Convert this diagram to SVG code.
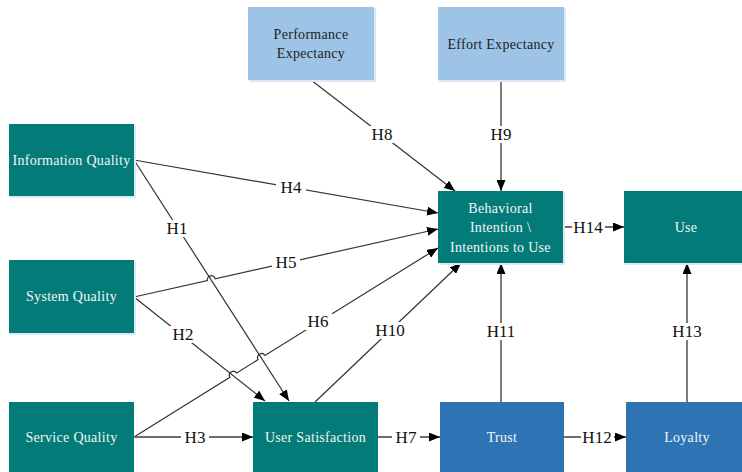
<svg xmlns="http://www.w3.org/2000/svg" width="742" height="472" viewBox="0 0 742 472">
<style>
.teal{fill:#037C79}
.blue{fill:#2E74B5}
.lblue{fill:#9DC3E6}
.sh{fill:#DCE8F3}
.nt{font-size:14px;text-anchor:middle;dominant-baseline:central;letter-spacing:0.3px}
.w{fill:#F4F4F4}
.d{fill:#1E1E1E}
.c{fill:none;stroke:#333;stroke-width:1.2}
.s{fill:none;stroke:#6E6E6E;stroke-width:1.8}
.lb{fill:#fff}
.lt{font-size:17px;fill:#111;text-anchor:middle;dominant-baseline:central}
</style>
<defs>
<marker id="ar" markerUnits="userSpaceOnUse" markerWidth="11" markerHeight="9" refX="11" refY="4.5" orient="auto">
<path d="M0,0 L11,4.5 L0,9 z" fill="#000"/>
</marker>
</defs>
<rect width="742" height="472" fill="#fff"/>
<g id="connectors">
<path id="e-h4" class="c" d="M134,160 L438,213" marker-end="url(#ar)"/>
<path id="e-h1" class="c" d="M134,160 L289,401" marker-end="url(#ar)"/>
<path id="e-h5" class="c" d="M134,297 L207.4,280.6 A4,4 0 0 1 215.2,278.8 L438,229" marker-end="url(#ar)"/>
<path id="e-h2" class="c" d="M134,297 L265,401" marker-end="url(#ar)"/>
<path id="e-h6" class="c" d="M134,437 L229.9,377.2 A4,4 0 0 1 236.7,373 L258.1,359.6 A4,4 0 0 1 264.9,355.4 L438,248" marker-end="url(#ar)"/>
<path id="e-h3" class="s" d="M134,437 L253,437" marker-end="url(#ar)"/>
<path id="e-h10" class="c" d="M315,402 L461,263" marker-end="url(#ar)"/>
<path id="e-h8" class="c" d="M311,80 L455,191" marker-end="url(#ar)"/>
<path id="e-h9" class="s" d="M501,80 L501,191" marker-end="url(#ar)"/>
<path id="e-h11" class="s" d="M501,402 L501,263" marker-end="url(#ar)"/>
<path id="e-h13" class="s" d="M687,402 L687,263" marker-end="url(#ar)"/>
<path id="e-h14" class="s" d="M563,227 L624,227" marker-end="url(#ar)"/>
<path id="e-h7" class="s" d="M378,437 L440,437" marker-end="url(#ar)"/>
<path id="e-h12" class="s" d="M564,437 L626,437" marker-end="url(#ar)"/>
<g id="labels" font-family="Liberation Serif, DejaVu Serif, serif">
<rect class="lb" x="276" y="179" width="30" height="17"/><text class="lt" x="291" y="187.5">H4</text>
<rect class="lb" x="163" y="220" width="28" height="17"/><text class="lt" x="177" y="228.5">H1</text>
<rect class="lb" x="272" y="254" width="28" height="17"/><text class="lt" x="286" y="262.5">H5</text>
<rect class="lb" x="169" y="326" width="28" height="17"/><text class="lt" x="183" y="334.5">H2</text>
<rect class="lb" x="304" y="313" width="28" height="17"/><text class="lt" x="318" y="321.5">H6</text>
<rect class="lb" x="181" y="429" width="28" height="17"/><text class="lt" x="195" y="437.5">H3</text>
<rect class="lb" x="374" y="322" width="33" height="17"/><text class="lt" x="390" y="330.5">H10</text>
<rect class="lb" x="368" y="126" width="28" height="17"/><text class="lt" x="382" y="134.5">H8</text>
<rect class="lb" x="487" y="126" width="28" height="17"/><text class="lt" x="501" y="134.5">H9</text>
<rect class="lb" x="485" y="323" width="33" height="17"/><text class="lt" x="501" y="331.5">H11</text>
<rect class="lb" x="671" y="323" width="33" height="17"/><text class="lt" x="687" y="331.5">H13</text>
<rect class="lb" x="572" y="219" width="33" height="17"/><text class="lt" x="588" y="227.5">H14</text>
<rect class="lb" x="392" y="429" width="28" height="17"/><text class="lt" x="406" y="437.5">H7</text>
<rect class="lb" x="581" y="429" width="33" height="17"/><text class="lt" x="597" y="437.5">H12</text>
</g>
</g>
<g id="nodes" font-family="Liberation Serif, DejaVu Serif, serif">
<g id="n-iq"><rect class="sh" x="10" y="125" width="126" height="73"/><rect class="teal" x="9" y="124" width="125" height="72"/><text class="nt w" x="71.5" y="160">Information Quality</text></g>
<g id="n-sq"><rect class="sh" x="10" y="261" width="126" height="74"/><rect class="teal" x="9" y="260" width="125" height="73"/><text class="nt w" x="71.5" y="296.5">System Quality</text></g>
<g id="n-servq"><rect class="teal" x="9" y="402" width="125" height="74"/><text class="nt w" x="71.5" y="437">Service Quality</text></g>
<g id="n-us"><rect class="teal" x="253" y="402" width="125" height="74"/><text class="nt w" x="315.5" y="437">User Satisfaction</text></g>
<g id="n-trust"><rect class="blue" x="440" y="402" width="124" height="74"/><text class="nt w" x="502" y="437">Trust</text></g>
<g id="n-loyalty"><rect class="blue" x="626" y="402" width="122" height="74"/><text class="nt w" x="687" y="437">Loyalty</text></g>
<g id="n-pe"><rect class="sh" x="249" y="8" width="127" height="74"/><rect class="lblue" x="248" y="7" width="126" height="73"/><text class="nt d" x="311" y="34.5">Performance</text><text class="nt d" x="311" y="53.5">Expectancy</text></g>
<g id="n-ee"><rect class="sh" x="439" y="8" width="127" height="74"/><rect class="lblue" x="438" y="7" width="126" height="73"/><text class="nt d" x="501" y="44">Effort Expectancy</text></g>
<g id="n-bi"><rect class="sh" x="439" y="192" width="126" height="73"/><rect class="teal" x="438" y="191" width="125" height="72"/><text class="nt w" x="500.5" y="208">Behavioral</text><text class="nt w" x="500.5" y="227.5">Intention \</text><text class="nt w" x="500.5" y="247">Intentions to Use</text></g>
<g id="n-use"><rect class="sh" x="625" y="192" width="122" height="73"/><rect class="teal" x="624" y="191" width="122" height="72"/><text class="nt w" x="686" y="227">Use</text></g>
</g>
</svg>
